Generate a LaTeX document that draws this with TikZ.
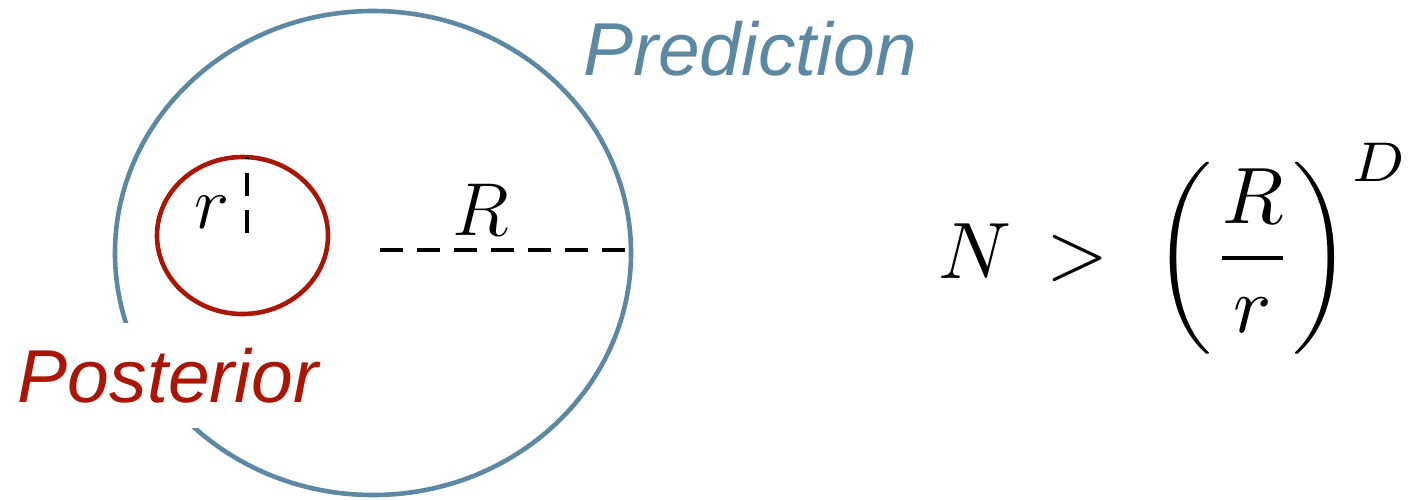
\RequirePackage{fix-cm}
\documentclass[tikz,border=0pt]{standalone}
\usepackage{amsmath}
\usepackage{graphicx}
\usepackage{fontspec}
\newfontfamily\labelfont{Liberation Sans}
\definecolor{predblue}{RGB}{92,136,163}
\definecolor{postred}{RGB}{170,22,6}

\begin{document}
\begin{tikzpicture}[x=1pt, y=-1pt, line width=4.6pt,
    radiusline/.style={black, dash pattern=on 23pt off 14pt},
    mathlbl/.style={font=\fontsize{75}{90}\selectfont, inner sep=0pt, anchor=base},
    setlbl/.style={font=\labelfont\itshape\fontsize{75}{90}\selectfont, inner sep=0pt, anchor=base}]
  \useasboundingbox (0,0) rectangle (1408,499);

  \coordinate (bigc) at (373,253);
  \coordinate (smallc) at (242.5,235.5);
  \draw[predblue] (bigc) ellipse [x radius=258pt, y radius=242pt];
  \node[setlbl, text=postred, fill=white, inner xsep=6pt, inner ysep=25pt] (posterior) at (168,402) {Posterior};
  \draw[postred] (smallc) ellipse [x radius=85.5pt, y radius=78.5pt];
  \node[setlbl, text=predblue] (prediction) at (750,75) {Prediction};

  \coordinate (Rin) at (380,250);
  \coordinate (Rout) at (630,250);
  \coordinate (rin) at (247,233);
  \coordinate (rout) at (247,157);
  \draw[radiusline] (Rin) -- (Rout);
  \draw[radiusline] (rin) -- (rout);
  \node[mathlbl] (Rlbl) at (481,235) {$R$};
  \node[mathlbl] (rlbl) at (212,228) {$r$};

  \node[anchor=base west, inner sep=0pt] (ineq) at (936,278)
    {\scalebox{8}{$\displaystyle N \mskip3mu > \mskip5mu \biggl(\frac{R}{r}\biggr)^{D}$}};
\end{tikzpicture}
\end{document}
